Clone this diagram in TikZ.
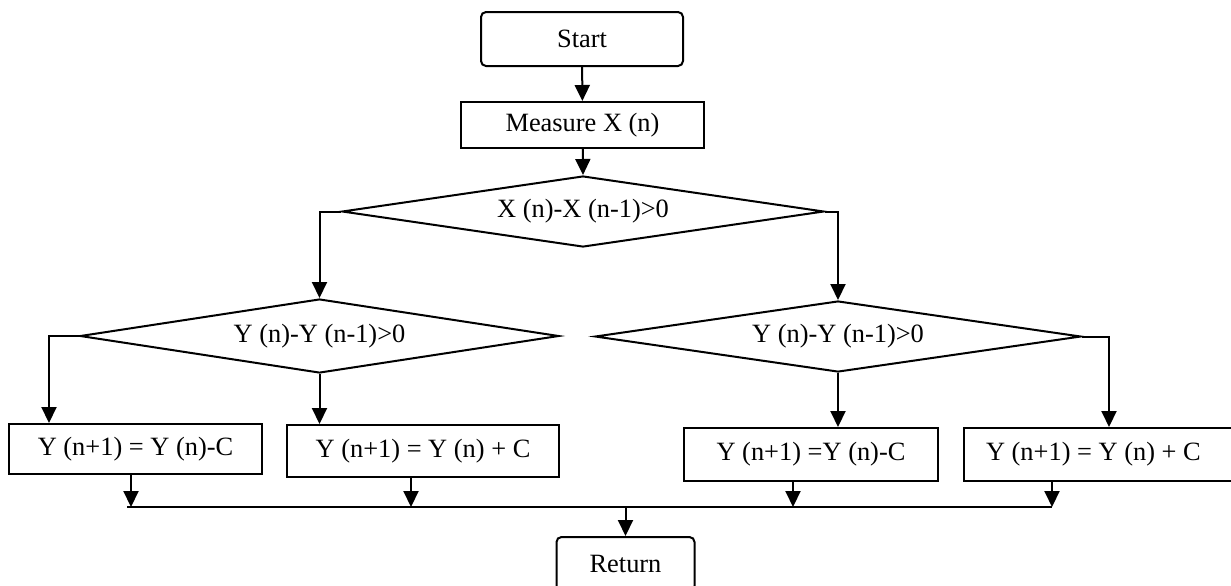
\documentclass[tikz,border=0pt]{standalone}
\usepackage{fontspec}
\setmainfont{Liberation Serif}
\usepackage{tikz}
\usetikzlibrary{arrows.meta,calc,shapes.geometric}

\tikzset{
  termbox/.style={draw,rounded corners=2.5pt,line width=1pt,inner sep=0pt,font=\fontsize{13.2}{15}\selectfont},
  procbox/.style={draw,line width=1pt,inner sep=0pt,font=\fontsize{13.2}{15}\selectfont},
  decide/.style={draw,diamond,aspect=6.8,line width=1pt,inner sep=0pt,font=\fontsize{13.2}{15}\selectfont},
  arr/.style={line width=1pt,-{Triangle[length=8pt,width=7.5pt]}}
}

\begin{document}
\begin{tikzpicture}[x=0.5pt,y=-0.5pt]
  \useasboundingbox (0,0) rectangle (1231,585);
  % top of the chart
  \node[termbox,minimum width=101pt,minimum height=27pt] (start) at (582,39) {Start};
  \node[procbox,minimum width=121.5pt,minimum height=23pt] (measure) at (582.5,125) {Measure X (n)};
  \node[decide,minimum width=241pt,minimum height=35.5pt] (dx) at (583,211.5) {X (n)-X (n-1)>0};
  % the two tests on Y
  \node[decide,minimum width=239.5pt,minimum height=37pt] (dyl) at (319.5,336) {Y (n)-Y (n-1)>0};
  \node[decide,minimum width=243pt,minimum height=35.5pt] (dyr) at (838,336.5) {Y (n)-Y (n-1)>0};
  % the four updates
  \node[procbox,minimum width=126.5pt,minimum height=25pt] (upa) at (135.5,449) {Y (n+1) = Y (n)-C};
  \node[procbox,minimum width=136pt,minimum height=26pt] (upb) at (423,451) {Y (n+1) = Y (n) + C};
  \node[procbox,minimum width=127pt,minimum height=26.5pt] (upc) at (811,454.5) {Y (n+1) =Y (n)-C};
  \node[procbox,anchor=west,text width=160pt,inner xsep=11pt,minimum height=26.5pt,align=flush left] (upd) at (963,454.5) {Y (n+1) = Y (n) + C};
  \node[termbox,minimum width=69pt,minimum height=27pt] (ret) at (625.5,564) {Return};
  \coordinate (busl) at (127,507);
  \coordinate (busr) at (1052,507);

  \draw[arr] (start) -- (measure);
  \draw[arr] (measure) -- (dx.north);
  \draw[arr] (dx.west) -| (dyl.north);
  \draw[arr] (dx.east) -| (dyr.north);
  \draw[arr] (dyl.west) -| ([xshift=-43.25pt]upa.north);
  \draw[arr] (dyl.south) -- (dyl.south |- upb.north);
  \draw[arr] (dyr.south) -- (dyr.south |- upc.north);
  \draw[arr] (dyr.east) -| ([xshift=-18.5pt]upd.north);
  \draw[arr] ([xshift=-2.25pt]upa.south) -- ([xshift=-2.25pt]upa.south |- busl);
  \draw[arr] ([xshift=-6pt]upb.south) -- ([xshift=-6pt]upb.south |- busl);
  \draw[arr] ([xshift=-9pt]upc.south) -- ([xshift=-9pt]upc.south |- busl);
  \draw[arr] (upd.south -| busr) -- (busr);
  \draw[line width=1pt] (busl) -- (busr);
  \draw[arr] (ret.north |- busl) -- (ret.north);
\end{tikzpicture}
\end{document}
